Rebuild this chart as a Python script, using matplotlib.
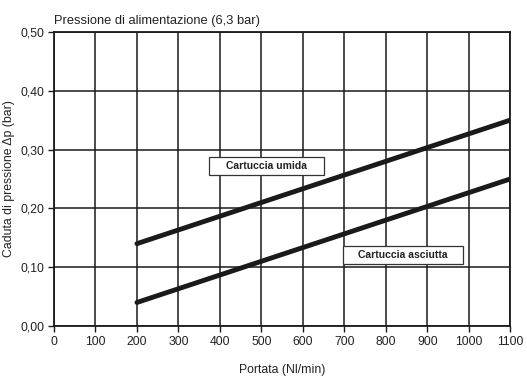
import matplotlib.pyplot as plt
from matplotlib.patches import Rectangle

# dati
portata = [200, 1100]
umida = [0.14, 0.35]
asciutta = [0.04, 0.25]
xticks = list(range(0, 1101, 100))
yticks = [0.0, 0.1, 0.2, 0.3, 0.4, 0.5]
ylabels = ['0,00', '0,10', '0,20', '0,30', '0,40', '0,50']

plt.rcParams['font.family'] = ['Liberation Sans', 'DejaVu Sans']
ink = '#1a1a1a'

fig = plt.figure(figsize=(5.27, 3.76), dpi=100)
ax = fig.add_axes([0.1025, 0.133, 0.8655, 0.782])

ax.plot(portata, umida, color=ink, linewidth=3.5, solid_capstyle='round')
ax.plot(portata, asciutta, color=ink, linewidth=3.5, solid_capstyle='round')

ax.set_xlim(0, 1100)
ax.set_ylim(0, 0.5)
ax.set_xticks(xticks)
ax.set_yticks(yticks, labels=ylabels)
ax.grid(True, color=ink, linewidth=1.1)
ax.tick_params(labelsize=8.8, length=4, width=1, color=ink, labelcolor='#222222', pad=3)
for s in ax.spines.values():
    s.set_linewidth(1.3)
    s.set_color(ink)

ax.set_xlabel('Portata (Nl/min)', fontsize=8.8, labelpad=12, color='#222222')
ax.set_ylabel('Caduta di pressione Δp (bar)', fontsize=8.8, labelpad=4, color='#222222')
ax.set_title('Pressione di alimentazione (6,3 bar)', fontsize=9.3, loc='left', x=0.0, pad=6,
             color='#222222')

# riquadri delle etichette
for (x0, x1, y0, y1, txt) in [(374, 651, 0.2568, 0.2874, 'Cartuccia umida'),
                              (697, 987, 0.1054, 0.136, 'Cartuccia asciutta')]:
    ax.add_patch(Rectangle((x0, y0), x1 - x0, y1 - y0, facecolor='white',
                           edgecolor='#333333', linewidth=0.9, zorder=3))
    ax.text((x0 + x1) / 2, (y0 + y1) / 2, txt, fontsize=7.5, fontweight='bold',
            ha='center', va='center', color='#222222', zorder=4)

fig.savefig('out.png', dpi=100)
